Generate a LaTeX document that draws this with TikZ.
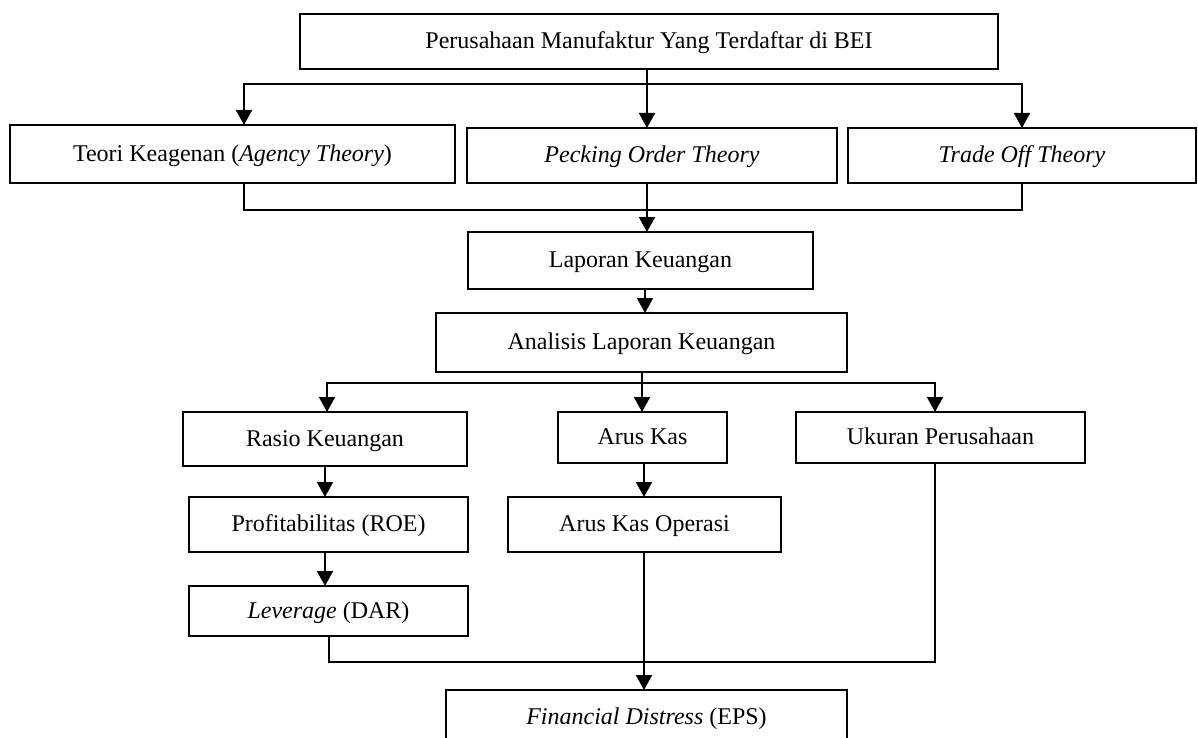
\documentclass[tikz,border=0pt]{standalone}
\usepackage{fontspec}
\setmainfont{Liberation Serif}
\usetikzlibrary{arrows.meta}
\begin{document}
\begin{tikzpicture}[x=1pt,y=-1pt,
  box/.style={draw, line width=1.8pt, inner sep=0pt, outer sep=0pt, text height=15pt, text depth=0.5pt, font=\fontsize{24}{28}\selectfont},
  link/.style={line width=1.8pt},
  arr/.style={link, -{Triangle[width=16pt,length=15pt]}}]
\useasboundingbox (0,0) rectangle (1198,738);
% boxes
\node[box, minimum width=698pt, minimum height=55pt] (top) at (649,41.5) {Perusahaan Manufaktur Yang Terdaftar di BEI};
\node[box, minimum width=445pt, minimum height=58pt] (teori) at (232.5,154) {Teori Keagenan (\textit{Agency Theory})};
\node[box, minimum width=370pt, minimum height=55pt] (pecking) at (652,155.5) {\textit{Pecking Order Theory}};
\node[box, minimum width=348pt, minimum height=55pt] (tradeoff) at (1022,155.5) {\textit{Trade Off Theory}};
\node[box, minimum width=345pt, minimum height=57pt] (laporan) at (640.5,260.5) {Laporan Keuangan};
\node[box, minimum width=411pt, minimum height=59pt] (analisis) at (641.5,342.5) {Analisis Laporan Keuangan};
\node[box, minimum width=284pt, minimum height=54pt] (rasio) at (325,439) {Rasio Keuangan};
\node[box, minimum width=169pt, minimum height=51pt] (aruskas) at (642.5,437.5) {Arus Kas};
\node[box, minimum width=289pt, minimum height=51pt] (ukuran) at (940.5,437.5) {Ukuran Perusahaan};
\node[box, minimum width=279pt, minimum height=55pt] (profit) at (328.5,524.5) {Profitabilitas (ROE)};
\node[box, minimum width=279pt, minimum height=50pt] (leverage) at (328.5,611) {\textit{Leverage} (DAR)};
\node[box, minimum width=273pt, minimum height=55pt] (ako) at (644.5,524.5) {Arus Kas Operasi};
\node[box, minimum width=401pt, anchor=north, text height=34pt, text depth=21pt] (fd) at (646.5,690) {\textit{Financial Distress} (EPS)};
% column / row helpers
\coordinate (cL) at (244,0);
\coordinate (cM) at (647,0);
\coordinate (cR) at (1022,0);
\coordinate (cM2) at (645,0);
\coordinate (cM3) at (642,0);
\coordinate (cRa) at (327,0);
\coordinate (cUk) at (935,0);
\coordinate (cP) at (325,0);
\coordinate (cLev) at (329,0);
\coordinate (cAk) at (644,0);
\coordinate (h1) at (0,84);
\coordinate (h2) at (0,210);
\coordinate (h3) at (0,383);
\coordinate (h4) at (0,662);
% connectors
\draw[arr] (top.south -| cM) -- (pecking.north -| cM);
\draw[arr] (cM |- h1) -| (teori.north -| cL);
\draw[arr] (cM |- h1) -| (tradeoff.north -| cR);
\draw[link] (teori.south -| cL) |- (cR |- h2) -- (tradeoff.south -| cR);
\draw[arr] (pecking.south -| cM) -- (laporan.north -| cM);
\draw[arr] (laporan.south -| cM2) -- (analisis.north -| cM2);
\draw[arr] (analisis.south -| cM3) -- (aruskas.north -| cM3);
\draw[arr] (cM3 |- h3) -| (rasio.north -| cRa);
\draw[arr] (cM3 |- h3) -| (ukuran.north -| cUk);
\draw[arr] (rasio.south -| cP) -- (profit.north -| cP);
\draw[arr] (profit.south -| cP) -- (leverage.north -| cP);
\draw[arr] (aruskas.south -| cAk) -- (ako.north -| cAk);
\draw[arr] (ako.south -| cAk) -- (fd.north -| cAk);
\draw[link] (leverage.south -| cLev) |- (cUk |- h4) -- (ukuran.south -| cUk);
\end{tikzpicture}
\end{document}
